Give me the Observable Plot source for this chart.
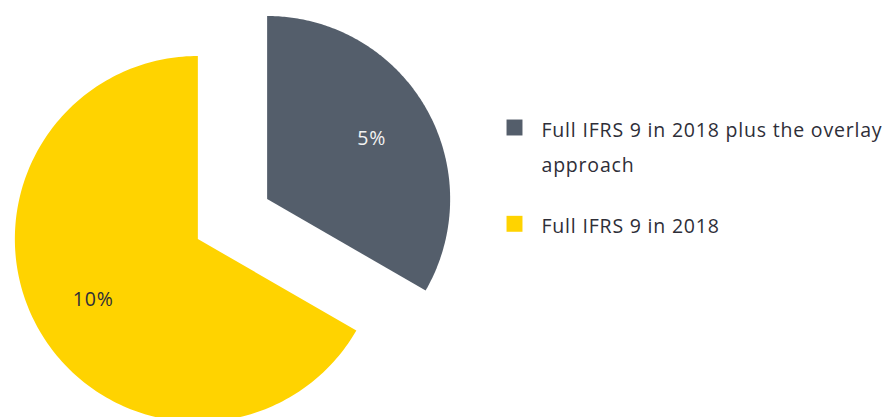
<!DOCTYPE html>
<html>
<head>
<meta charset="utf-8">
<script src="https://cdn.jsdelivr.net/npm/d3@7"></script>
<script src="https://cdn.jsdelivr.net/npm/@observablehq/plot@0.6"></script>
<style>
  html, body { margin: 0; padding: 0; background: #fff; }
  #chart { width: 890px; height: 417px; overflow: hidden; }
  #chart text { letter-spacing: 0.8px; }
</style>
</head>
<body>
<div id="chart"></div>
<script>
// ---- data ----
const categories = ["Full IFRS 9 in 2018 plus the overlay approach", "Full IFRS 9 in 2018"];
const values = [5, 10];
const valueLabels = ["5%", "10%"];
const colors = ["#545e6b", "#ffd300"];
const labelColors = ["#f2f2f2", "#2e2e38"];

// ---- layout ----
const W = 890, H = 417;
const cx = 232, cy = 218.5, R = 183, explode = 40, labelR = 0.66;
const legendX = 514, legendTextX = 541, legendTop = 127, legendStep = 96.3;
const fs = 19.5, lh = 1.8;
const font = "'Open Sans', Lato, sans-serif";

const pie = d3.pie().sort(null).value(d => d.value)(
  categories.map((c, i) => ({cat: c, value: values[i], label: valueLabels[i], i}))
);

const polyPts = [];
const labelPts = [];
pie.forEach(p => {
  const mid = (p.startAngle + p.endAngle) / 2;
  const ox = cx + explode * Math.sin(mid), oy = cy - explode * Math.cos(mid);
  polyPts.push({cat: p.data.cat, x: ox, y: oy});
  const n = 200;
  for (let k = 0; k <= n; k++) {
    const a = p.startAngle + (p.endAngle - p.startAngle) * k / n;
    polyPts.push({cat: p.data.cat, x: ox + R * Math.sin(a), y: oy - R * Math.cos(a)});
  }
  polyPts.push({cat: p.data.cat, x: ox, y: oy});
  labelPts.push({cat: p.data.cat, label: p.data.label, color: labelColors[p.data.i],
    x: ox + labelR * R * Math.sin(mid), y: oy - labelR * R * Math.cos(mid)});
});

const legend = categories.map((c, i) => ({cat: c, x: legendX, tx: legendTextX, y: legendTop + i * legendStep}));
// baseline sits ~9.5px below the marker centre; Plot's top anchor offsets by 0.71*lh em
const textShift = 9.5 - 0.71 * lh * fs;

const chart = Plot.plot({
  width: W, height: H, margin: 0,
  style: {fontFamily: font, fontSize: fs + "px", background: "#fff"},
  x: {domain: [0, W], range: [0, W], axis: null},
  y: {domain: [0, H], range: [0, H], axis: null},
  color: {domain: categories, range: colors},
  marks: [
    Plot.line(polyPts, {x: "x", y: "y", z: "cat", fill: "cat", stroke: "none"}),
    Plot.text(labelPts, {x: "x", y: "y", text: "label", fill: d => d.color, fontSize: fs}),
    Plot.dot(legend, {x: "x", y: "y", fill: "cat", symbol: "square", r: 9, stroke: "none"}),
    Plot.text(legend, {x: "tx", y: d => d.y + textShift, text: "cat", textAnchor: "start", lineAnchor: "top",
      lineWidth: 19, lineHeight: lh, fill: "#2e2e38", fontSize: fs})
  ]
});
document.getElementById("chart").append(chart);
</script>
</body>
</html>
